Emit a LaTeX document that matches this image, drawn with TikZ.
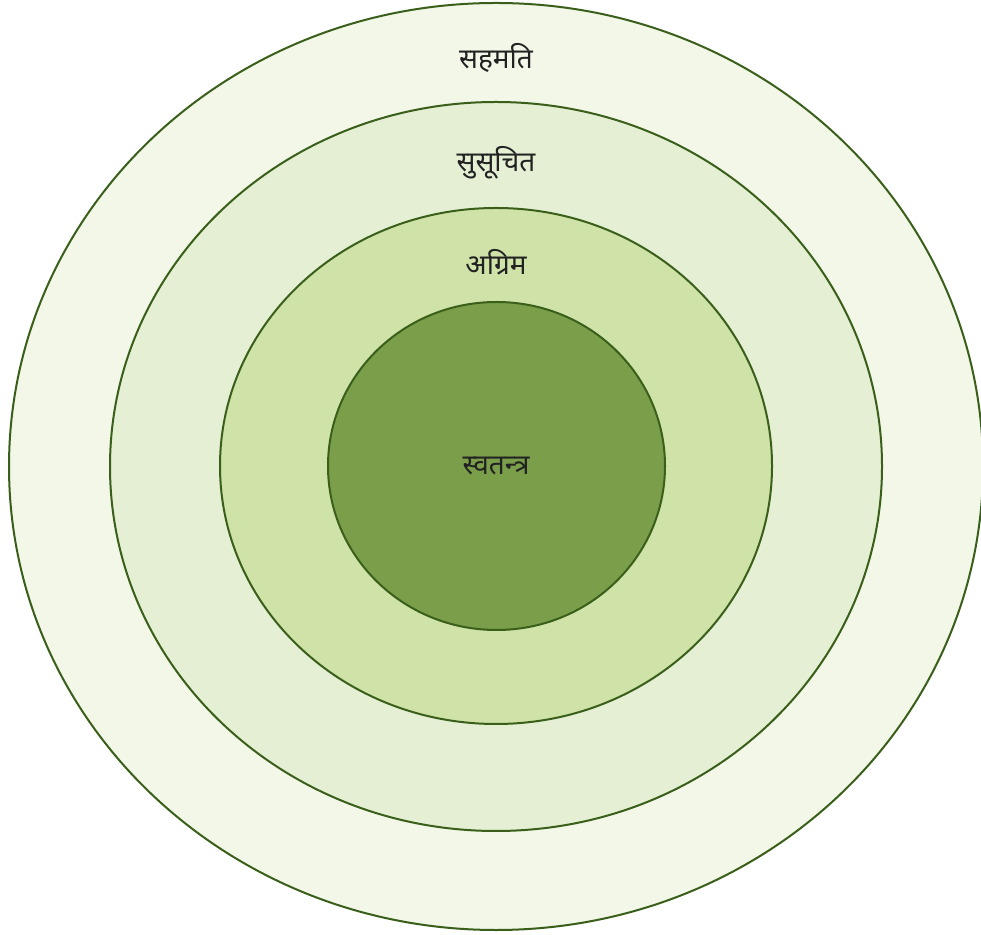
\documentclass[tikz,border=0pt]{standalone}
\usepackage{fontspec}
\newfontfamily\devfont[Script=Devanagari]{Noto Sans}
\usetikzlibrary{shapes.geometric}
\definecolor{ring1}{HTML}{F2F7E8}
\definecolor{ring2}{HTML}{E4EFD4}
\definecolor{ring3}{HTML}{CFE2A8}
\definecolor{ring4}{HTML}{7A9E4A}
\definecolor{edgec}{HTML}{3A5F1A}
\definecolor{txt}{HTML}{222222}
\tikzset{
  ring/.style={draw=edgec, line width=2pt},
  lbl/.style={font=\devfont\fontsize{28}{32}\selectfont, text=txt, inner sep=0pt}
}
\begin{document}
\begin{tikzpicture}[x=1pt,y=1pt]
\useasboundingbox (0,0) rectangle (981,934);
\filldraw[ring, fill=ring1] (496,467.5) ellipse [x radius=487, y radius=463.5];
\filldraw[ring, fill=ring2] (496,467.5) ellipse [x radius=386, y radius=364.5];
\filldraw[ring, fill=ring3] (496,468) ellipse [x radius=276, y radius=258];
\filldraw[ring, fill=ring4] (496.5,468) ellipse [x radius=168.5, y radius=164];
\node[lbl] (l1) at (496,876) {सहमति};
\node[lbl] (l2) at (496,771) {सुसूचित};
\node[lbl] (l3) at (496,672) {अग्रिम};
\node[lbl] (l4) at (496,468) {स्वतन्त्र};
\end{tikzpicture}
\end{document}
